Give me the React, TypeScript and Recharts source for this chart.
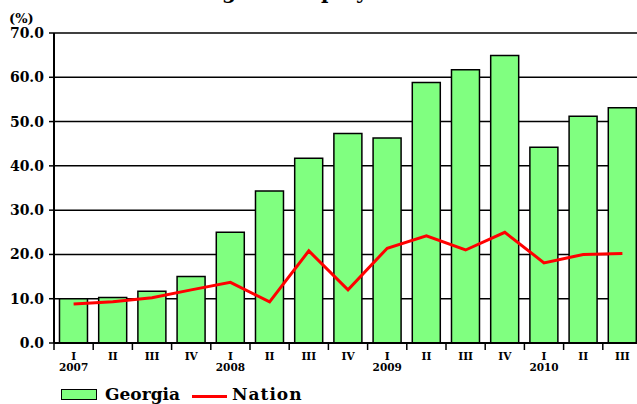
import { ComposedChart, Bar, Line, XAxis, YAxis, CartesianGrid, Legend } from 'recharts'

// Quarterly share of claims, Georgia vs. the nation, 2007 Q1 - 2010 Q3
const periods = [
  '2007 I', '2007 II', '2007 III', '2007 IV',
  '2008 I', '2008 II', '2008 III', '2008 IV',
  '2009 I', '2009 II', '2009 III', '2009 IV',
  '2010 I', '2010 II', '2010 III',
]
const georgia = [10.0, 10.3, 11.7, 15.0, 25.0, 34.3, 41.7, 47.3, 46.3, 58.8, 61.7, 64.9, 44.2, 51.2, 53.1]
const nation = [8.8, 9.3, 10.2, 12.0, 13.7, 9.3, 20.8, 12.0, 21.4, 24.2, 21.0, 25.0, 18.1, 20.0, 20.2]
const yTicks = [0, 10, 20, 30, 40, 50, 60, 70]

const data = periods.map((p, i) => ({ period: p, georgia: georgia[i], nation: nation[i] }))

const FONT = '"DejaVu Serif", serif'
const W = 660
const H = 404
const MARGIN = { top: 33, right: 18, left: 0, bottom: 21 }
const Y_AXIS_W = 54
const BAND = (W - MARGIN.left - MARGIN.right - Y_AXIS_W) / periods.length

// quarter numeral under each bar, year under the first quarter, tick mark on the band's left edge
function QuarterTick(props: any) {
  const { x, y, payload } = props
  const [yr, q] = String(payload.value).split(' ')
  const left = x - BAND / 2
  return (
    <g>
      <line x1={left} y1={y} x2={left} y2={y + 7} stroke="#000" strokeWidth={1.5} />
      <text x={x} y={y + 17} textAnchor="middle" fontFamily={FONT} fontWeight="bold" fontSize={10.5} fill="#000">
        {q}
      </text>
      {q === 'I' && (
        <text x={x} y={y + 28} textAnchor="middle" fontFamily={FONT} fontWeight="bold" fontSize={10.5} fill="#000">
          {yr}
        </text>
      )}
    </g>
  )
}

function LegendBox() {
  return (
    <div style={{ position: 'relative', width: 400, height: 20, fontFamily: FONT, fontWeight: 'bold', fontSize: 17, color: '#000' }}>
      <span style={{ position: 'absolute', left: 61, top: 3, width: 34, height: 9, background: '#80ff80', border: '1.5px solid #000' }} />
      <span style={{ position: 'absolute', left: 105, top: -2, lineHeight: '20px' }}>Georgia</span>
      <span style={{ position: 'absolute', left: 192, top: 9, width: 35, height: 3, background: '#ff0000' }} />
      <span style={{ position: 'absolute', left: 232, top: -2, lineHeight: '20px', letterSpacing: 1 }}>Nation</span>
    </div>
  )
}

export default function App() {
  return (
    <div style={{ position: 'fixed', left: 0, top: 0, width: 637, height: 404, overflow: 'hidden', background: '#fff' }}>
      <div style={{ position: 'absolute', left: 0, top: -18, width: W, textAlign: 'center', fontFamily: FONT, fontWeight: 'bold', fontSize: 20, lineHeight: '20px', whiteSpace: 'nowrap' }}>
        Percentage of Employer Filed Claims
      </div>
      <div style={{ position: 'absolute', left: 9, top: 11, fontFamily: FONT, fontWeight: 'bold', fontSize: 13, lineHeight: '16px' }}>
        (%)
      </div>
      <ComposedChart width={W} height={H} data={data} margin={MARGIN} barCategoryGap="14%">
        <CartesianGrid vertical={false} stroke="#000" strokeWidth={1.5} />
        <XAxis
          dataKey="period"
          height={40}
          axisLine={{ stroke: '#000', strokeWidth: 2 }}
          tickLine={false}
          tickSize={0}
          tickMargin={0}
          interval={0}
          tick={<QuarterTick />}
        />
        <YAxis
          width={Y_AXIS_W}
          domain={[0, 70]}
          ticks={yTicks}
          tickFormatter={(v: number) => v.toFixed(1)}
          axisLine={{ stroke: '#000', strokeWidth: 2 }}
          tickLine={{ stroke: '#000', strokeWidth: 1.5 }}
          tickSize={5}
          tickMargin={5}
          tick={{ fontFamily: FONT, fontWeight: 'bold', fontSize: 14, fill: '#000' }}
        />
        <Legend layout="horizontal" verticalAlign="middle" content={<LegendBox />} wrapperStyle={{ position: 'absolute', left: 0, top: 386, width: 400 }} />
        <Bar dataKey="georgia" name="Georgia" fill="#80ff80" stroke="#000" strokeWidth={1.5} isAnimationActive={false} />
        <Line dataKey="nation" name="Nation" type="linear" stroke="#ff0000" strokeWidth={3} dot={false} isAnimationActive={false} />
      </ComposedChart>
    </div>
  )
}
